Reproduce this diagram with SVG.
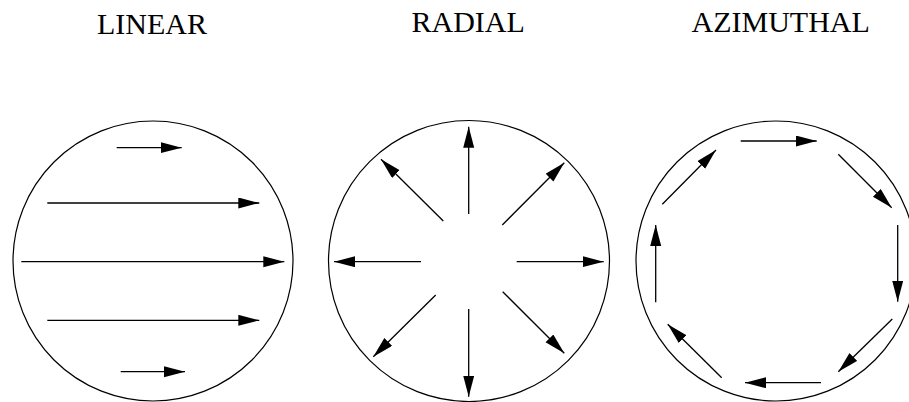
<svg xmlns="http://www.w3.org/2000/svg" width="909" height="402" viewBox="0 0 909 402">
<defs>
<marker id="ah" markerUnits="userSpaceOnUse" markerWidth="22" markerHeight="12" refX="21" refY="5.5" orient="auto">
<path d="M0,0 L21,5.5 L0,11 Z" fill="#000"/>
</marker>
</defs>
<style>
.t{font-family:"Liberation Serif","Times New Roman",serif;font-size:30px;fill:#000}
.c{fill:none;stroke:#000;stroke-width:1.2}
.a{stroke:#000;stroke-width:1.3;fill:none;marker-end:url(#ah)}
</style>
<rect width="909" height="402" fill="#fff"/>
<g id="linear">
<text class="t" x="97" y="34">LINEAR</text>
<circle class="c" cx="153" cy="261" r="140"/>
</g>
<g id="radial">
<text class="t" x="411.5" y="31.5">RADIAL</text>
<circle class="c" cx="469" cy="261" r="140.5"/>
</g>
<g id="azimuthal">
<text class="t" x="691.5" y="31.5">AZIMUTHAL</text>
<circle class="c" cx="776" cy="261" r="140"/>
</g>
<g id="connectors">
<line class="a" x1="116.7" y1="147.7" x2="181.7" y2="147.7"/>
<line class="a" x1="47.3" y1="203" x2="259.3" y2="203"/>
<line class="a" x1="21.3" y1="261.7" x2="284.3" y2="261.7"/>
<line class="a" x1="47.3" y1="320.3" x2="259.3" y2="320.3"/>
<line class="a" x1="120.7" y1="371.7" x2="185" y2="371.7"/>

<line class="a" x1="468.7" y1="214" x2="468.7" y2="126.7"/>
<line class="a" x1="516.7" y1="261.7" x2="603.7" y2="261.7"/>
<line class="a" x1="421" y1="261.7" x2="334" y2="261.7"/>
<line class="a" x1="468.7" y1="309" x2="468.7" y2="396.7"/>
<line class="a" x1="502.3" y1="225" x2="564.3" y2="162.7"/>
<line class="a" x1="443.3" y1="221" x2="381" y2="159.3"/>
<line class="a" x1="435.7" y1="295" x2="373.3" y2="356.7"/>
<line class="a" x1="502.7" y1="291.7" x2="564.3" y2="353.3"/>

<line class="a" x1="740.7" y1="141" x2="816.7" y2="141"/>
<line class="a" x1="838.3" y1="154.3" x2="891.7" y2="207.7"/>
<line class="a" x1="897.7" y1="225" x2="897.7" y2="301.7"/>
<line class="a" x1="892.3" y1="319" x2="838.3" y2="371.7"/>
<line class="a" x1="821" y1="382.7" x2="745" y2="382.7"/>
<line class="a" x1="721.7" y1="377.7" x2="667.7" y2="324.3"/>
<line class="a" x1="655.7" y1="302.3" x2="655.7" y2="225"/>
<line class="a" x1="662.3" y1="204.3" x2="716" y2="150"/>
</g>
</svg>
